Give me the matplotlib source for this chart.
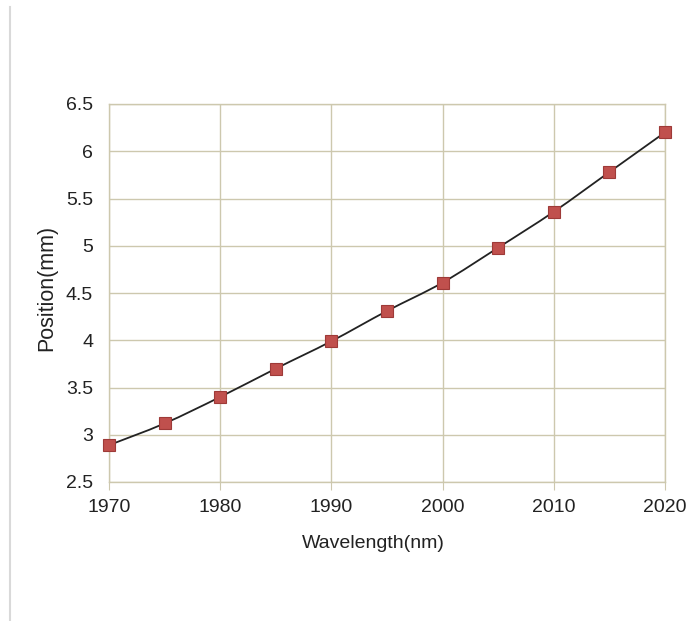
import matplotlib
matplotlib.use("Agg")
import matplotlib.pyplot as plt
from matplotlib.path import Path
from matplotlib.patches import PathPatch
from matplotlib.lines import Line2D
import numpy as np

years = [1970, 1975, 1980, 1985, 1990, 1995, 2000, 2005, 2010, 2015, 2020]
position = [2.89, 3.12, 3.40, 3.70, 3.99, 4.31, 4.61, 4.98, 5.36, 5.78, 6.20]
xticks = [1970, 1980, 1990, 2000, 2010, 2020]
yticks = [2.5, 3, 3.5, 4, 4.5, 5, 5.5, 6, 6.5]
ytick_labels = ["2.5", "3", "3.5", "4", "4.5", "5", "5.5", "6", "6.5"]

plt.rcParams['font.family'] = ['Liberation Sans', 'DejaVu Sans']

fig = plt.figure(figsize=(6.88, 6.21), dpi=100)
ax = fig.add_axes([109/688, 1-482/621, (665-109)/688, (482-104)/621])

grid_c = '#cdc8ae'
ax.set_xlim(1970, 2020)
ax.set_ylim(2.5, 6.5)
ax.set_xticks(xticks)
ax.set_yticks(yticks)
ax.set_yticklabels(ytick_labels)
ax.grid(True, color=grid_c, linewidth=1.0)
ax.set_axisbelow(True)
for s in ax.spines.values():
    s.set_color(grid_c)
    s.set_linewidth(1.0)
ax.tick_params(axis='x', length=6, color=grid_c, labelsize=14, pad=6.5, labelcolor='#222222')
ax.tick_params(axis='y', length=0, labelsize=14, pad=11.5, labelcolor='#222222')

# smooth curve (Catmull-Rom as cubic Bezier in data coords)
x = np.array(years, float); y = np.array(position, float)
verts = [(x[0], y[0])]; codes = [Path.MOVETO]
n = len(x)
for i in range(n - 1):
    p0 = (x[i-1], y[i-1]) if i > 0 else (x[i], y[i])
    p1 = (x[i], y[i]); p2 = (x[i+1], y[i+1])
    p3 = (x[i+2], y[i+2]) if i + 2 < n else (x[i+1], y[i+1])
    c1 = (p1[0] + (p2[0]-p0[0])/6, p1[1] + (p2[1]-p0[1])/6)
    c2 = (p2[0] - (p3[0]-p1[0])/6, p2[1] - (p3[1]-p1[1])/6)
    verts += [c1, c2, p2]; codes += [Path.CURVE4]*3
ax.add_patch(PathPatch(Path(verts, codes), fill=False, edgecolor='#222222', linewidth=1.3, zorder=3))

ax.plot(years, position, linestyle='none', marker='s', markersize=8.5,
        markerfacecolor='#c0504d', markeredgecolor='#9e3a38', markeredgewidth=0.8,
        zorder=4, clip_on=False)

ax.set_xlabel('Wavelength(nm)', fontsize=14, color='#222222')
ax.xaxis.set_label_coords((373 - 109) / 556, -(544 - 482) / 378)
ax.xaxis.label.set_va('center')
ax.set_ylabel('Position(mm)', fontsize=15.5, color='#222222')
ax.yaxis.set_label_coords(-(109 - 47) / 556, (482 - 288) / 378)
ax.yaxis.label.set_va('center')

fig.add_artist(Line2D([9.5/688, 9.5/688], [0, 1-7/621], color='#d9d9d9', linewidth=1.5))

fig.savefig('out.png', dpi=100)
